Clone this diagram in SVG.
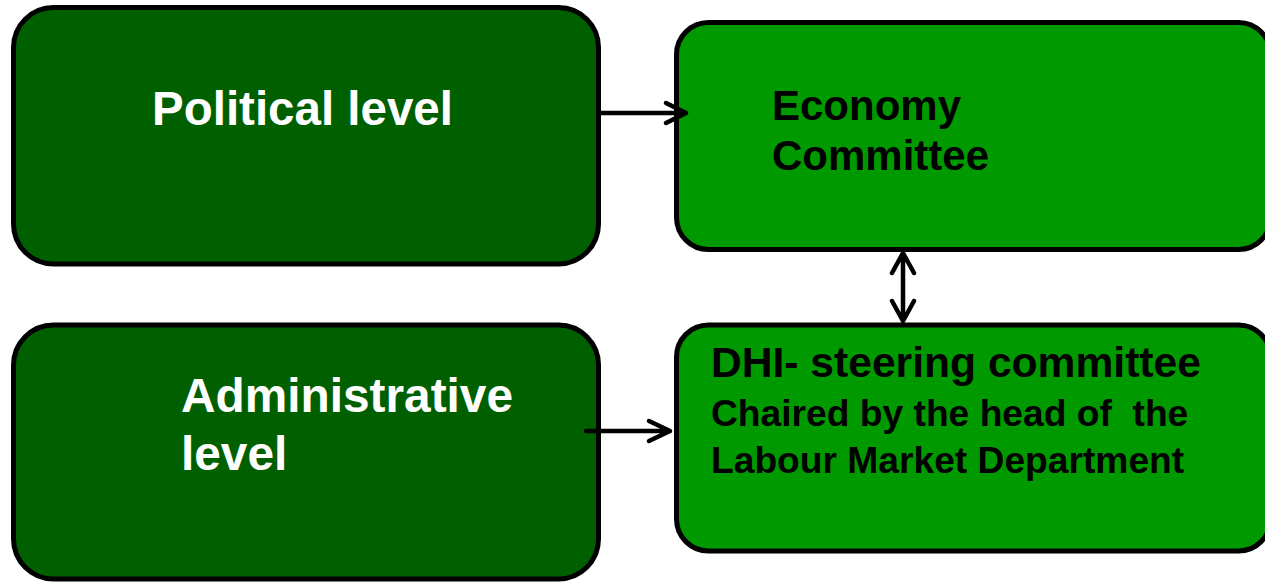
<svg xmlns="http://www.w3.org/2000/svg" width="1265" height="582" viewBox="0 0 1265 582">
<style>
.box{stroke:#000;stroke-width:5}
.dark{fill:#006000}
.light{fill:#009900}
.t{font-family:"Liberation Sans",Arial,sans-serif;font-weight:bold}
.w{fill:#fff}
.k{fill:#000}
.c{stroke:#000;stroke-width:4.5;fill:none;stroke-linecap:round;stroke-linejoin:round}
</style>
<rect width="1265" height="582" fill="#fff"/>
<g id="political">
<rect class="box dark" x="13.5" y="7.5" width="585" height="256.5" rx="40"/>
<text class="t w" x="152" y="125" font-size="47.5">Political level</text>
</g>
<g id="administrative">
<rect class="box dark" x="13.5" y="325" width="585" height="254" rx="40"/>
<text class="t w" x="181" y="412" font-size="47.8">Administrative</text>
<text class="t w" x="181" y="470" font-size="47.8">level</text>
</g>
<g id="economy">
<rect class="box light" x="676.5" y="22.5" width="594" height="227" rx="32"/>
<text class="t k" x="772" y="120" font-size="42">Economy</text>
<text class="t k" x="772" y="170" font-size="42">Committee</text>
</g>
<g id="dhi">
<rect class="box light" x="676.5" y="325" width="594" height="226" rx="32"/>
<text class="t k" x="711" y="377" font-size="42.6">DHI- steering committee</text>
<text class="t k" x="711" y="426" font-size="37.2" xml:space="preserve">Chaired by the head of  the</text>
<text class="t k" x="711" y="473" font-size="37.2">Labour Market Department</text>
</g>
<g id="connectors">
<path class="c" d="M601 113 H686 M666 103 L686 113 L666 123"/>
<path class="c" d="M903 253 V321 M892 273 L903 253 L914 273 M892 301 L903 321 L914 301"/>
<path class="c" d="M586 431 H670 M649 421 L670 431 L649 441"/>
</g>
</svg>
